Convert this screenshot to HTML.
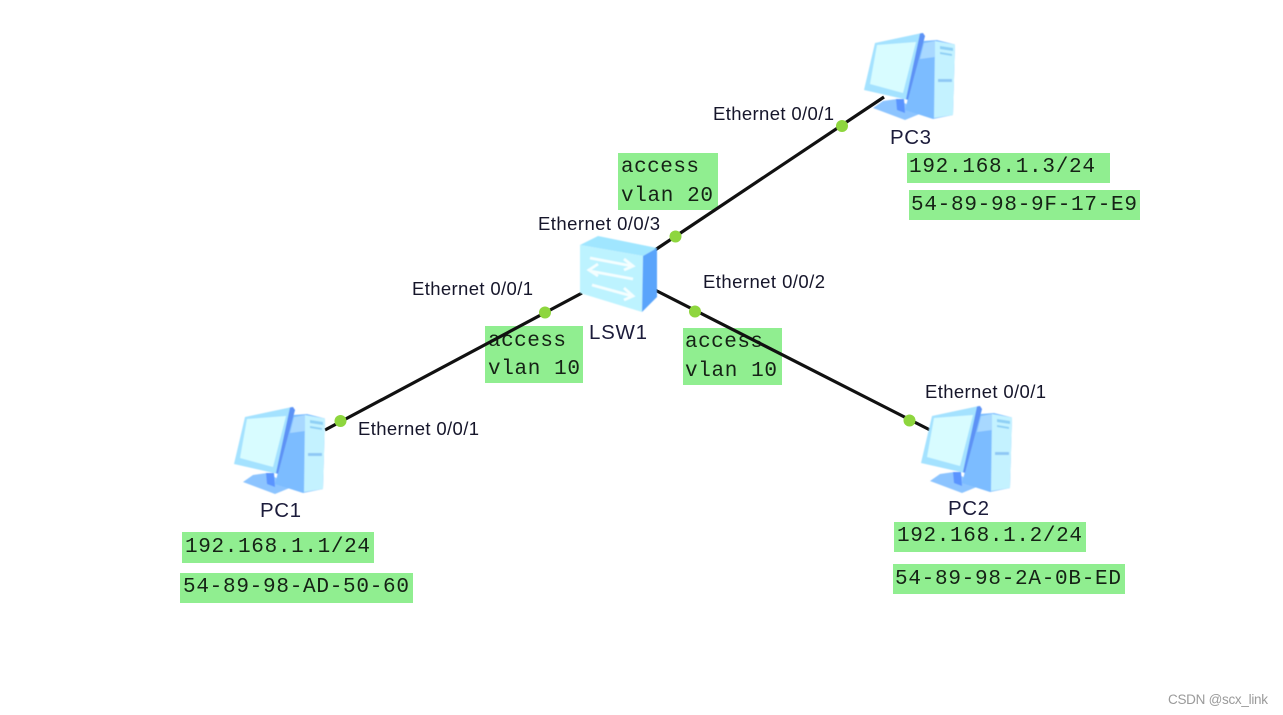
<!DOCTYPE html>
<html>
<head>
<meta charset="utf-8">
<style>
html,body{margin:0;padding:0;background:#fff;width:1283px;height:715px;overflow:hidden}
svg{display:block}
.e{font:18.500px "Liberation Sans",sans-serif;fill:#14142a}
.n{font:20.500px "Liberation Sans",sans-serif;fill:#1c1c3a}
.m{font:21px "Liberation Mono",monospace;fill:#142214}
.b{fill:#90ee90}
.d{fill:#8ed63e}
</style>
</head>
<body>
<svg width="1283" height="715" viewBox="0 0 1283 715" xmlns="http://www.w3.org/2000/svg">
<defs>
<filter id="s" x="-5%" y="-5%" width="110%" height="110%"><feGaussianBlur stdDeviation="0.6"/></filter>
<filter id="t" x="-2%" y="-10%" width="104%" height="120%"><feGaussianBlur stdDeviation="0.3"/></filter>
<g id="pc">
  <polygon points="23,87 33,80 47,78 60,85 72,92 55,99" fill="#8cc4ff"/>
  <polygon points="46,78 54,78 55,92 47,89" fill="#5a94ff"/>
  <polygon points="73,20 87,19 105,23.500 103,94 83,98 55,89" fill="#7cbcff"/>
  <polygon points="85,20 105,23.500 103,94 84,97" fill="#c4f2ff"/>
  <polygon points="74,22 85,20 85,36 70,38" fill="#a8d8ff"/>
  <polygon points="90,25 103,27 103,30 90,28" fill="#8fd0f5"/>
  <polygon points="90,31 102,33 102,35 90,33" fill="#8fd0f5"/>
  <polygon points="88,58 102,58 102,61 88,61" fill="#8fc8f5"/>
  <polygon points="25,22 72,12 75,15 58,79 14,69" fill="#a4e2ff"/>
  <polygon points="70,12.500 73,12 75,15 58,79 56,78" fill="#5d92f5"/>
  <polygon points="27,24 66,21 53,72 20,63" fill="#d8fcff"/>
</g>
</defs>
<g class="b">
<rect x="182" y="532" width="192" height="31"/>
<rect x="180" y="573" width="233" height="30"/>
<rect x="485" y="326" width="98" height="57"/>
<rect x="683" y="328" width="99" height="57"/>
<rect x="618" y="153" width="100" height="57"/>
<rect x="907" y="153" width="203" height="30"/>
<rect x="909" y="190" width="231" height="30"/>
<rect x="894" y="522" width="192" height="30"/>
<rect x="893" y="564" width="232" height="30"/>
</g>
<g class="m" filter="url(#t)">
<text x="185" y="552" textLength="185">192.168.1.1/24</text>
<text x="183" y="592" textLength="226">54-89-98-AD-50-60</text>
<text x="488" y="346" textLength="78">access</text>
<text x="488" y="374" textLength="92">vlan 10</text>
<text x="685" y="347" textLength="78">access</text>
<text x="685" y="376" textLength="92">vlan 10</text>
<text x="621" y="172" textLength="78">access</text>
<text x="621" y="201" textLength="92">vlan 20</text>
<text x="909" y="172" textLength="186">192.168.1.3/24</text>
<text x="911" y="210" textLength="226">54-89-98-9F-17-E9</text>
<text x="897" y="541" textLength="185">192.168.1.2/24</text>
<text x="895" y="584" textLength="226">54-89-98-2A-0B-ED</text>
</g>
<g stroke="#111" stroke-width="3.200" fill="none">
<line x1="325" y1="430" x2="582" y2="293"/>
<line x1="655" y1="290" x2="932" y2="431"/>
<line x1="655" y1="250" x2="884" y2="97"/>
</g>
<g filter="url(#s)">
<use href="#pc" x="220" y="395"/>
<use href="#pc" x="907" y="394"/>
<use href="#pc" x="850" y="21"/>
<polygon points="580,245 598,236 657,248 643,256" fill="#a0e6ff"/>
<polygon points="580,245 643,256 642,312 580,293" fill="#bdf3ff"/>
<polygon points="643,256 657,248 657,297 642,312" fill="#5aa4fb"/>
<g stroke="#f4feff" stroke-width="2.800" fill="none">
<line x1="590" y1="258" x2="632" y2="266"/>
<polyline points="624,259 633,266 624,270"/>
<line x1="633" y1="279" x2="590" y2="271"/>
<polyline points="598,264 589,270 598,276"/>
<line x1="592" y1="285" x2="632" y2="296"/>
<polyline points="624,288 633,296 624,300"/>
</g>
</g>
<g class="d">
<circle cx="340.500" cy="421" r="6"/>
<circle cx="545" cy="312.500" r="6"/>
<circle cx="695" cy="311.500" r="6"/>
<circle cx="909.500" cy="420.500" r="6"/>
<circle cx="675.500" cy="236.500" r="6"/>
<circle cx="842" cy="126" r="6"/>
</g>
<g class="e" filter="url(#t)">
<text x="713" y="120" textLength="121">Ethernet 0/0/1</text>
<text x="538" y="230" textLength="122">Ethernet 0/0/3</text>
<text x="412" y="295" textLength="121">Ethernet 0/0/1</text>
<text x="703" y="288" textLength="122">Ethernet 0/0/2</text>
<text x="358" y="435" textLength="121">Ethernet 0/0/1</text>
<text x="925" y="398" textLength="121">Ethernet 0/0/1</text>
</g>
<g class="n" filter="url(#t)">
<text x="260" y="517" textLength="41">PC1</text>
<text x="948" y="515" textLength="41">PC2</text>
<text x="890" y="144" textLength="41">PC3</text>
<text x="589" y="339" textLength="58">LSW1</text>
</g>
<text x="1168" y="704" font-family="Liberation Sans, sans-serif" font-size="13.500" fill="#9a9a9a" textLength="100">CSDN @scx_link</text>
</svg>
</body>
</html>
